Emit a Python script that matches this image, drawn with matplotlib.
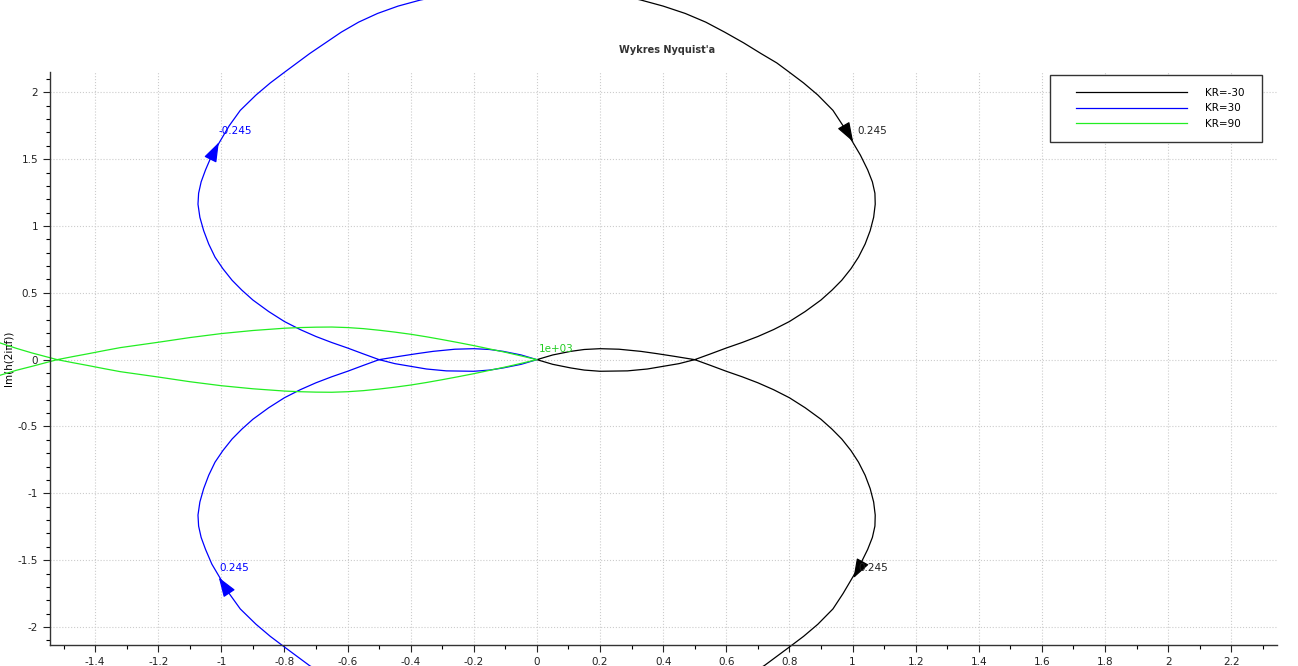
import matplotlib
matplotlib.use("Agg")
import matplotlib.pyplot as plt
from matplotlib.patches import Rectangle
from matplotlib.ticker import MultipleLocator, FuncFormatter

plt.rcParams["font.family"] = ["DejaVu Sans"]
plt.rcParams["axes.unicode_minus"] = False

# Nyquist curves (Re, Im), in drawing order
black_re = [0.10, 0.20, 0.33, 0.40, 0.47, 0.535, 0.595, 0.655, 0.71, 0.76, 0.80, 0.845,
            0.89, 0.938, 0.97, 1.00, 1.025, 1.048, 1.063, 1.071, 1.072, 1.067, 1.056,
            1.04, 1.019, 0.995, 0.966, 0.935, 0.90, 0.85, 0.80, 0.75, 0.70, 0.65, 0.60,
            0.55, 0.50, 0.45, 0.40, 0.35, 0.287, 0.20, 0.15, 0.107, 0.05, 0.00,
            0.05, 0.107, 0.15, 0.20, 0.26, 0.329, 0.38, 0.435, 0.50, 0.55, 0.60, 0.65,
            0.70, 0.75, 0.80, 0.85, 0.90, 0.935, 0.966, 0.995, 1.019, 1.04, 1.056, 1.067,
            1.072, 1.071, 1.063, 1.048, 1.025, 1.00, 0.97, 0.938, 0.89, 0.845, 0.80,
            0.76, 0.72, 0.66]
black_im = [2.80, 2.76, 2.69, 2.645, 2.59, 2.525, 2.45, 2.37, 2.29, 2.22, 2.15, 2.07,
            1.98, 1.865, 1.75, 1.63, 1.53, 1.42, 1.33, 1.245, 1.163, 1.065, 0.965,
            0.865, 0.767, 0.68, 0.594, 0.52, 0.446, 0.36, 0.285, 0.225, 0.173, 0.128,
            0.087, 0.043, 0.00, -0.03, -0.05, -0.07, -0.084, -0.087, -0.078, -0.062,
            -0.035, 0.00,
            0.035, 0.062, 0.076, 0.082, 0.078, 0.062, 0.045, 0.025, 0.00, -0.043,
            -0.087, -0.128, -0.173, -0.225, -0.285, -0.36, -0.446, -0.52, -0.594, -0.68,
            -0.767, -0.865, -0.965, -1.065, -1.163, -1.245, -1.33, -1.42, -1.53, -1.63,
            -1.75, -1.865, -1.98, -2.07, -2.15, -2.22, -2.29, -2.37]

blue_re = [-0.10, -0.22, -0.37, -0.44, -0.505, -0.565, -0.62, -0.67, -0.72, -0.76, -0.80,
           -0.845, -0.89, -0.94, -0.975, -1.005, -1.03, -1.05, -1.064, -1.072, -1.074,
           -1.068, -1.056, -1.04, -1.02, -0.995, -0.966, -0.935, -0.90, -0.85, -0.80,
           -0.75, -0.70, -0.65, -0.60, -0.55, -0.50, -0.45, -0.40, -0.35, -0.287, -0.20,
           -0.15, -0.107, -0.05, 0.00,
           -0.05, -0.107, -0.15, -0.20, -0.26, -0.329, -0.38, -0.435, -0.50, -0.55,
           -0.60, -0.65, -0.70, -0.75, -0.80, -0.85, -0.90, -0.935, -0.966, -0.995,
           -1.02, -1.04, -1.056, -1.068, -1.074, -1.072, -1.064, -1.05, -1.03, -1.005,
           -0.975, -0.94, -0.89, -0.845, -0.80, -0.76, -0.72, -0.66]
blue_im = [2.80, 2.76, 2.69, 2.645, 2.59, 2.525, 2.45, 2.37, 2.29, 2.22, 2.15, 2.07,
           1.98, 1.865, 1.75, 1.63, 1.53, 1.42, 1.33, 1.245, 1.163, 1.065, 0.965,
           0.865, 0.767, 0.68, 0.594, 0.52, 0.446, 0.36, 0.285, 0.225, 0.173, 0.128,
           0.087, 0.043, 0.00, -0.03, -0.05, -0.07, -0.084, -0.087, -0.078, -0.062,
           -0.035, 0.00,
           0.035, 0.062, 0.076, 0.082, 0.078, 0.062, 0.045, 0.025, 0.00, -0.043,
           -0.087, -0.128, -0.173, -0.225, -0.285, -0.36, -0.446, -0.52, -0.594, -0.68,
           -0.767, -0.865, -0.965, -1.065, -1.163, -1.245, -1.33, -1.42, -1.53, -1.63,
           -1.75, -1.865, -1.98, -2.07, -2.15, -2.22, -2.29, -2.37]

green_re = [-1.70, -1.65, -1.60, -1.56, -1.52, -1.47, -1.42, -1.37, -1.32, -1.26, -1.20,
            -1.10, -1.00, -0.90, -0.80, -0.75, -0.70, -0.65, -0.60, -0.55, -0.50, -0.45,
            -0.40, -0.35, -0.30, -0.25, -0.20, -0.15, -0.10, -0.05, 0.00,
            -0.05, -0.10, -0.15, -0.20, -0.25, -0.30, -0.35, -0.40, -0.45, -0.50, -0.55,
            -0.60, -0.65, -0.70, -0.75, -0.80, -0.90, -1.00, -1.10, -1.20, -1.26, -1.32,
            -1.37, -1.42, -1.47, -1.52, -1.56, -1.60, -1.65, -1.70]
green_im = [-0.116, -0.08, -0.05, -0.025, 0.00, 0.023, 0.045, 0.068, 0.09, 0.11, 0.13,
            0.165, 0.195, 0.218, 0.235, 0.24, 0.243, 0.244, 0.24, 0.232, 0.22, 0.206,
            0.19, 0.171, 0.15, 0.128, 0.105, 0.08, 0.055, 0.028, 0.00,
            -0.028, -0.055, -0.08, -0.105, -0.128, -0.15, -0.171, -0.19, -0.206, -0.22,
            -0.232, -0.24, -0.244, -0.243, -0.24, -0.235, -0.218, -0.195, -0.165, -0.13,
            -0.11, -0.09, -0.068, -0.045, -0.023, 0.00, 0.025, 0.05, 0.085, 0.124]

# frequency marks: (tail, tip) of each arrow and label text/position
arrows_black = [((0.975, 1.74), (1.002, 1.63)), ((1.03, -1.52), (1.003, -1.635))]
arrows_blue = [((-1.03, 1.52), (-1.008, 1.625)), ((-0.98, -1.73), (-1.008, -1.63))]
labels_black = [(1.017, 1.71, "0.245"), (1.02, -1.56, "0.245")]
labels_blue = [(-1.01, 1.71, "-0.245"), (-1.006, -1.56, "0.245")]
label_green = (0.005, 0.04, "1e+03")

legend_names = ["KR=-30", "KR=30", "KR=90"]

fig = plt.figure(figsize=(12.98, 6.66), dpi=100)
ax = fig.add_axes([0.0385, 0.0315, 0.9453, 0.8604])

ax.plot(black_re, black_im, color="black", lw=0.9, clip_on=False, label=legend_names[0])
ax.plot(blue_re, blue_im, color="#0000ff", lw=0.9, clip_on=False, label=legend_names[1])
ax.plot(green_re, green_im, color="#22ee22", lw=0.9, clip_on=False, label=legend_names[2])

for (tail, tip), col in [(a, "black") for a in arrows_black] + [(a, "#0000ff") for a in arrows_blue]:
    ax.annotate("", xy=tip, xytext=tail,
                arrowprops=dict(arrowstyle="-|>,head_length=1.2,head_width=0.42",
                                color=col, lw=0.9, shrinkA=0, shrinkB=0))

for x, y, t in labels_black:
    ax.text(x, y, t, color="#222222", fontsize=7.5, ha="left", va="center")
for x, y, t in labels_blue:
    ax.text(x, y, t, color="#0000ff", fontsize=7.5, ha="left", va="center")
ax.text(label_green[0], label_green[1], label_green[2], color="#22cc22",
        fontsize=7.5, ha="left", va="bottom")

ax.set_xlim(-1.543, 2.345)
ax.set_ylim(-2.135, 2.152)
ax.xaxis.set_major_locator(MultipleLocator(0.2))
ax.xaxis.set_minor_locator(MultipleLocator(0.1))
ax.yaxis.set_major_locator(MultipleLocator(0.5))
ax.yaxis.set_minor_locator(MultipleLocator(0.1))
fmt = FuncFormatter(lambda v, p: "%g" % round(v, 2) if abs(v) > 1e-9 else "0")
ax.xaxis.set_major_formatter(fmt)
ax.yaxis.set_major_formatter(fmt)
ax.tick_params(which="major", direction="out", length=5, width=0.8, labelsize=7.5,
               colors="#222222")
ax.tick_params(which="minor", direction="out", length=3, width=0.8)
ax.grid(True, which="major", ls=":", color="#cccccc", lw=0.8)
ax.set_axisbelow(True)
for s in ["top", "right"]:
    ax.spines[s].set_visible(False)
for s in ["left", "bottom"]:
    ax.spines[s].set_linewidth(1.0)
    ax.spines[s].set_color("#333333")

ax.set_ylabel("Im(h(2iπf))", fontsize=7.5)
ax.yaxis.set_label_coords(-0.030, 0.5)
fig.text(667 / 1298, 1 - 50 / 666, "Wykres Nyquist'a", ha="center", va="center",
         fontsize=7, fontweight="bold", color="#333333")

# legend box drawn separately so its padding matches the original
ax.add_patch(Rectangle((1050 / 1298, 1 - 142 / 666), 212 / 1298, 67 / 666,
                       transform=fig.transFigure, facecolor="white",
                       edgecolor="#333333", lw=1.0, zorder=5, clip_on=False))
leg = ax.legend(loc="upper left", bbox_to_anchor=(1063.5 / 1298, 1 - 75 / 666),
                bbox_transform=fig.transFigure, borderaxespad=0, fontsize=7.5,
                handlelength=10.7, handletextpad=1.7, borderpad=1.2, labelspacing=0.55,
                frameon=False)
leg.set_zorder(6)

fig.savefig("out.png", dpi=100)
